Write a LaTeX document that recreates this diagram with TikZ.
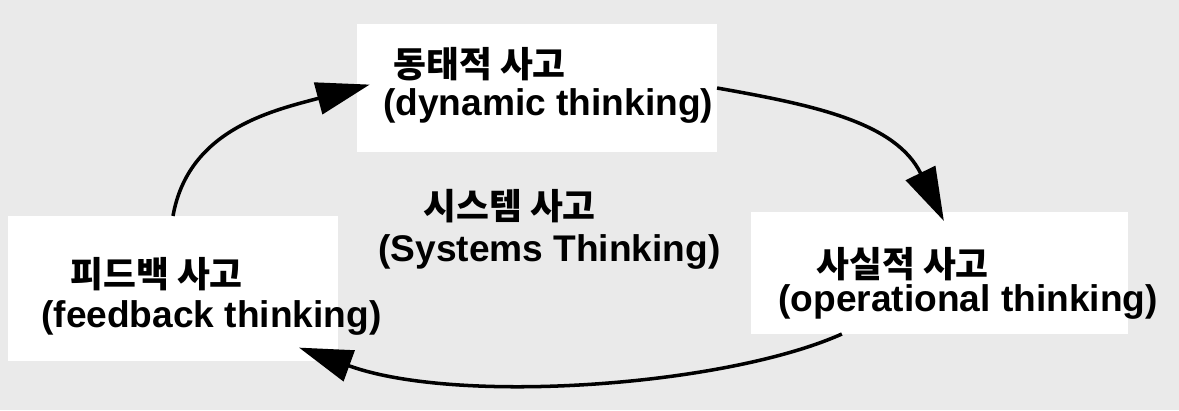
\documentclass[tikz,border=0pt]{standalone}
\usepackage{fontspec}
\setmainfont{Liberation Sans}
\newfontfamily\kor{Noto Sans CJK KR}
\usetikzlibrary{arrows.meta}
\definecolor{paper}{RGB}{234,234,234}

\begin{document}
\begin{tikzpicture}[x=0.025cm,y=-0.025cm,
	box/.style={fill=white,inner sep=0,outer sep=0},
	kor/.style={anchor=base west,inner sep=0,font=\kor\bfseries\fontsize{25.4pt}{30pt}\selectfont},
	eng/.style={anchor=base west,inner sep=0,font=\bfseries\fontsize{26.4pt}{30pt}\selectfont},
	flow/.style={line width=2.5pt,-{Triangle[length=38pt,width=23pt]}}]
	\fill[paper] (0,0) rectangle (1179,410);
	\node[box,minimum width=9cm,minimum height=3.2cm] (dyn) at (537,88) {};
	\node[box,minimum width=8.25cm,minimum height=3.625cm] (fb) at (173,288.5) {};
	\node[box,minimum width=9.425cm,minimum height=3.05cm] (op) at (939.5,273) {};
	\node[kor] (dynK) at (393,77) {동태적 사고};
	\node[eng] (dynE) at (383,115) {(dynamic thinking)};
	\node[kor] (sysK) at (423,219) {시스템 사고};
	\node[eng] (sysE) at (378,261) {(Systems Thinking)};
	\node[kor] (fbK) at (70,287) {피드백 사고};
	\node[eng] (fbE) at (41,327) {(feedback thinking)};
	\node[kor] (opK) at (816,277) {사실적 사고};
	\node[eng] (opE) at (778,311) {(operational thinking)};
	\draw[flow,shorten >=-0.33cm] (fb.north) to[out=80,in=195] (dyn.west);
	\draw[flow,shorten >=-0.25cm] (dyn.east) to[out=-10,in=116] (op.north);
	\draw[flow,shorten >=-0.98cm] (op.212) to[out=204,in=340,looseness=0.65] (fb.-24);
\end{tikzpicture}
\end{document}
